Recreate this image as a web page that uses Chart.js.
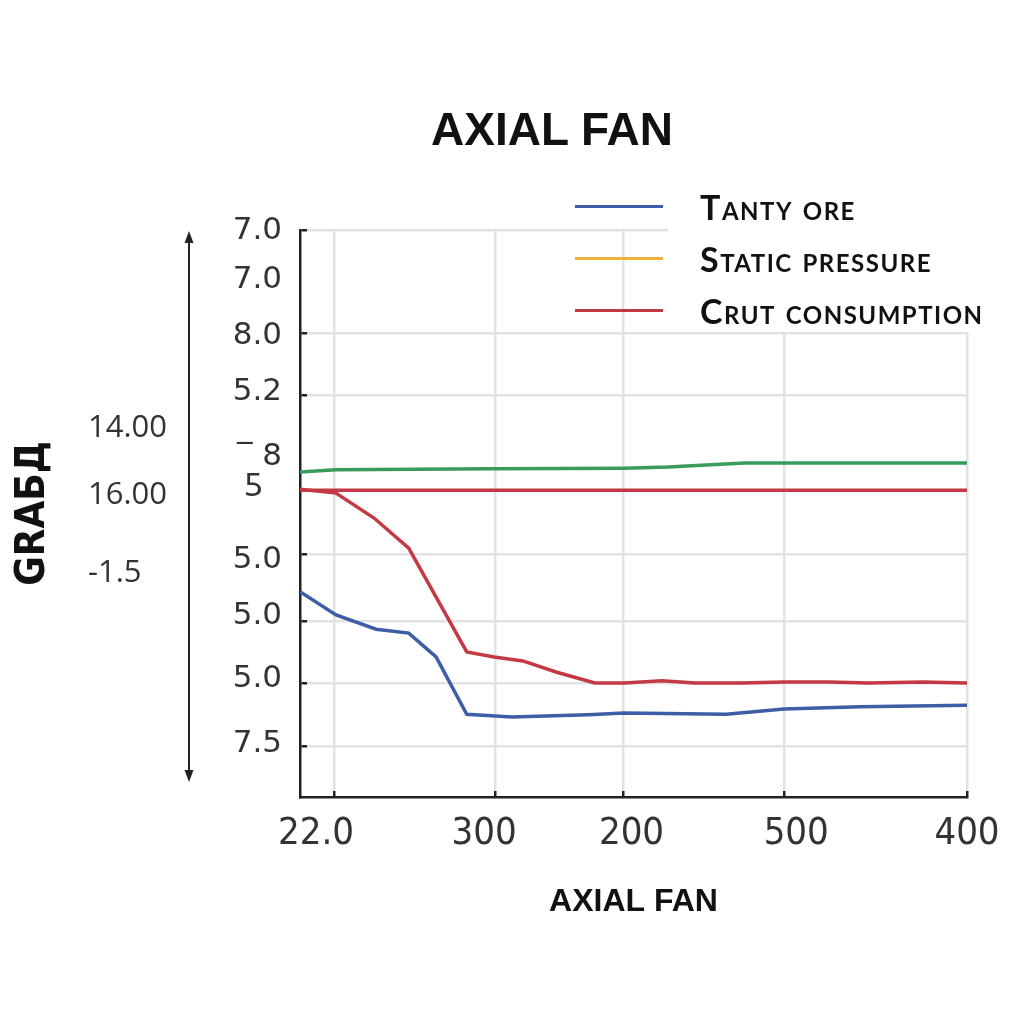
<!DOCTYPE html>
<html>
<head>
<meta charset="utf-8">
<script src="https://cdn.jsdelivr.net/npm/chart.js@4/dist/chart.umd.min.js"></script>
<style>
html, body { margin: 0; padding: 0; background: #fff; }
#wrap { position: relative; width: 1024px; height: 1024px; }
#title { position: absolute; left: 0; top: 102px; width: 1104px; line-height: 60px; text-align: center;
  font: bold 46px "Liberation Sans", Arial, sans-serif; color: #111; }
#legend { position: absolute; left: 560px; top: 180px; width: 464px; height: 152px;
  background: linear-gradient(90deg, rgba(255,255,255,0) 108px, #fff 108px); }
.row { display: flex; align-items: center; height: 52px; }
.swatch { width: 88px; height: 3px; margin-left: 15px; }
.txt { margin-left: 37px; font: small-caps bold 34px Lato, sans-serif; letter-spacing: 1.5px; color: #111; }
</style>
</head>
<body>
<div id="wrap">
  <canvas id="fanChart" width="1024" height="1024"></canvas>
  <div id="title">AXIAL FAN</div>
  <div id="legend"></div>
</div>
<script>
// axis positions (0-100 on both axes) and their odd labels
var xGrid = [5.2, 29.2, 48.4, 72.6, 100];
var xLabelPos = [2.4, 27.6, 49.7, 74.4, 100];
var xLabels = ['22.0', '300', '200', '500', '400'];
var yGrid = [100, 81.8, 70.9, 42.9, 31.0, 20.1, 9.0];
var yLabelPos = [99.8, 91.2, 81.3, 71.4, 57.8, 41.8, 31.9, 20.8, 9.3];
var yLabels = ['7.0', '7.0', '8.0', '5.2', ['\u203e 8', '\u01bd  '], '5.0', '5.0', '5.0', '7.5'];
var outerPos = [65.1, 53.3, 39.5];
var outerLabels = ['14.00', '16.00', '-1.5'];

// series
var tantyX = [0, 5.4, 11.4, 16.3, 20.4, 25.0, 31.8, 43.2, 48.6, 63.9, 72.6, 84.0, 100];
var tantyY = [36.2, 32.1, 29.6, 28.9, 24.7, 14.6, 14.1, 14.5, 14.8, 14.6, 15.5, 15.9, 16.2];
var crutX = [0, 5.4, 11.1, 16.3, 25.0, 29.1, 33.4, 38.5, 44.2, 48.6, 54.3, 59.2, 66.0, 72.6, 79.3, 85.3, 93.4, 100];
var crutY = [54.3, 53.6, 49.2, 43.9, 25.6, 24.7, 24.0, 22.0, 20.1, 20.1, 20.5, 20.1, 20.1, 20.3, 20.3, 20.1, 20.3, 20.1];
var greenX = [0, 5.4, 29.1, 48.6, 55.2, 66.6, 72.6, 100];
var greenY = [57.3, 57.7, 57.9, 58.0, 58.2, 58.9, 58.9, 58.9];
var flatX = [0, 100];
var flatY = [54.1, 54.1];

function pts(xs, ys) {
    return xs.map(function (x, i) { return { x: x, y: ys[i] }; });
}
function fixTicks(vals) {
    return function (scale) { scale.ticks = vals.map(function (v) { return { value: v }; }); };
}
function line(label, color, data, inLegend) {
    return { label: label, data: data, borderColor: color, backgroundColor: color, borderWidth: 3.5,
        pointRadius: 0, tension: 0, inLegend: inLegend };
}

var condensed = "'Liberation Sans Narrow', 'DejaVu Sans Condensed', sans-serif";

// grid lines light grey with a short dark tick where they meet the axis
function yGridColor(c) {
    var ca = c.chart.chartArea;
    if (!ca) return '#e2e2e2';
    var g = c.chart.ctx.createLinearGradient(ca.left, 0, ca.left + 9, 0);
    g.addColorStop(0, '#222'); g.addColorStop(0.78, '#222');
    g.addColorStop(0.8, '#e2e2e2'); g.addColorStop(1, '#e2e2e2');
    return g;
}
function xGridColor(c) {
    var ca = c.chart.chartArea;
    if (!ca) return '#e2e2e2';
    var g = c.chart.ctx.createLinearGradient(0, ca.bottom, 0, ca.bottom - 8);
    g.addColorStop(0, '#222'); g.addColorStop(0.75, '#222');
    g.addColorStop(0.78, '#e2e2e2'); g.addColorStop(1, '#e2e2e2');
    return g;
}

var arrowPlugin = {
    id: 'arrow',
    afterDraw: function (chart) {
        var ctx = chart.ctx, x = chart.scales.y3.right;
        var top = chart.chartArea.top + 1, bottom = chart.chartArea.bottom - 15;
        ctx.save();
        ctx.strokeStyle = '#222'; ctx.fillStyle = '#222'; ctx.lineWidth = 2;
        ctx.beginPath(); ctx.moveTo(x, top + 6); ctx.lineTo(x, bottom - 6); ctx.stroke();
        ctx.beginPath(); ctx.moveTo(x, top); ctx.lineTo(x - 4.5, top + 12); ctx.lineTo(x + 4.5, top + 12); ctx.fill();
        ctx.beginPath(); ctx.moveTo(x, bottom); ctx.lineTo(x - 4.5, bottom - 12); ctx.lineTo(x + 4.5, bottom - 12); ctx.fill();
        ctx.restore();
    }
};

var chart = new Chart(document.getElementById('fanChart'), {
    type: 'line',
    data: {
        datasets: [
            line('Tanty ore', '#3d5ea6', pts(tantyX, tantyY), true),
            line('Static pressure', '#f0b03c', [], true),
            line('Crut consumption', '#c43a44', pts(crutX, crutY), true),
            line('', '#3a9c5c', pts(greenX, greenY), false),
            line('', '#c43a44', pts(flatX, flatY), false)
        ]
    },
    options: {
        responsive: false,
        animation: false,
        layout: { padding: { left: 0, right: 57, top: 230, bottom: 77 } },
        plugins: { legend: { display: false }, tooltip: { enabled: false } },
        scales: {
            x: {
                type: 'linear', position: 'bottom', weight: 0, min: 0, max: 100,
                afterBuildTicks: fixTicks(xGrid),
                afterFit: function (s) { s.height = 10; },
                ticks: { display: false },
                grid: { color: xGridColor, lineWidth: 2.5, drawTicks: false },
                border: { color: '#222', width: 2.5 }
            },
            x2: {
                type: 'linear', position: 'bottom', weight: 1, min: 0, max: 100,
                afterBuildTicks: fixTicks(xLabelPos),
                afterFit: function (s) { s.height = 140; },
                grid: { display: false, drawTicks: false },
                border: { display: false },
                ticks: {
                    autoSkip: false, maxRotation: 0, padding: 4, color: '#333',
                    font: { family: condensed, size: 38 },
                    callback: function (v, i) { return xLabels[i]; }
                },
                title: {
                    display: true, text: 'AXIAL FAN', color: '#111',
                    font: { family: "'Liberation Sans', Arial, sans-serif", size: 32, weight: 'bold' },
                    padding: { top: 0, bottom: 26 }
                }
            },
            y: {
                type: 'linear', position: 'left', weight: 0, min: 0, max: 100,
                afterBuildTicks: fixTicks(yGrid),
                afterFit: function (s) { s.width = 12; },
                ticks: { display: false },
                grid: { color: yGridColor, lineWidth: 2.5, drawTicks: false },
                border: { color: '#222', width: 2.5 }
            },
            y2: {
                type: 'linear', position: 'left', weight: 1, min: 0, max: 100,
                afterBuildTicks: fixTicks(yLabelPos),
                afterFit: function (s) { s.width = 99; },
                grid: { display: false, drawTicks: false },
                border: { display: false },
                ticks: {
                    autoSkip: false, padding: 6, color: '#333',
                    font: { family: "'DejaVu Sans', sans-serif", size: 31, lineHeight: 0.8 },
                    callback: function (v, i) { return yLabels[i]; }
                }
            },
            y3: {
                type: 'linear', position: 'left', weight: 2, min: 0, max: 100,
                afterBuildTicks: fixTicks(outerPos),
                afterFit: function (s) { s.width = 101; },
                grid: { display: false, drawTicks: false },
                border: { display: false },
                ticks: {
                    autoSkip: false, padding: 0, crossAlign: 'far', color: '#333',
                    font: { family: "'Open Sans', sans-serif", size: 31 },
                    callback: function (v, i) { return outerLabels[i]; }
                }
            },
            y4: {
                type: 'linear', position: 'left', weight: 3, min: 0, max: 100,
                afterFit: function (s) { s.width = 88; },
                grid: { display: false, drawTicks: false },
                border: { display: false },
                ticks: { display: false },
                title: {
                    display: true, text: 'GRA\u0411\u0414', color: '#111',
                    font: { family: condensed, size: 40, weight: 'bold' },
                    padding: { top: 10, bottom: 0 }
                }
            }
        }
    },
    plugins: [arrowPlugin]
});

// legend built from the datasets
var legendDiv = document.getElementById('legend');
chart.data.datasets.forEach(function (ds) {
    if (!ds.inLegend) return;
    legendDiv.innerHTML += '<div class="row"><div class="swatch" style="background:' + ds.borderColor +
        '"></div><div class="txt">' + ds.label + '</div></div>';
});
</script>
</body>
</html>
